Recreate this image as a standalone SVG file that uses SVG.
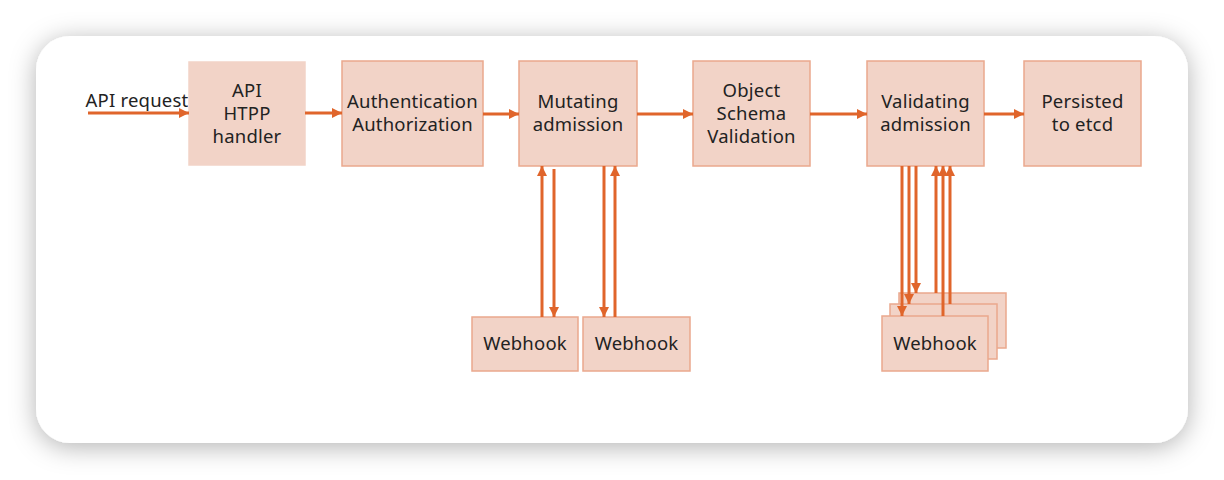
<svg xmlns="http://www.w3.org/2000/svg" width="1224" height="480" viewBox="0 0 1224 480">
<style>
.box{fill:#f2d3c7;stroke:#eaa88d;stroke-width:1.5}
.t{font-family:"Noto Sans","Open Sans","DejaVu Sans",sans-serif;font-size:18.5px;fill:#222;text-anchor:middle;letter-spacing:0.2px}
.c{stroke:#e0652b;stroke-width:3;fill:none}
</style>
<defs>
<filter id="sh" x="-10%" y="-20%" width="120%" height="140%">
<feDropShadow dx="0" dy="4" stdDeviation="13" flood-color="#000" flood-opacity="0.3"/>
</filter>
<marker id="ah" viewBox="0 0 10 10" refX="10" refY="5" markerWidth="10" markerHeight="10" markerUnits="userSpaceOnUse" orient="auto">
<path d="M0,0 L10,5 L0,10 z" fill="#e0652b"/>
</marker>
</defs>
<rect width="1224" height="480" fill="#fff"/>
<rect x="36" y="36" width="1152" height="407" rx="34" fill="#fff" filter="url(#sh)"/>
<g id="api-request-label"><text class="t" x="137" y="107">API request</text></g>
<g id="api-handler"><rect class="box" x="189" y="62" width="116" height="103" style="stroke:#f2d3c7"/><text class="t" x="247" y="97">API</text><text class="t" x="247" y="120">HTPP</text><text class="t" x="247" y="143">handler</text></g>
<g id="authn"><rect class="box" x="342" y="61" width="141" height="105"/><text class="t" x="412.5" y="108">Authentication</text><text class="t" x="412.5" y="131">Authorization</text></g>
<g id="mutating"><rect class="box" x="519" y="61" width="118" height="105"/><text class="t" x="578" y="108">Mutating</text><text class="t" x="578" y="131">admission</text></g>
<g id="schema"><rect class="box" x="693" y="61" width="117" height="105"/><text class="t" x="751.5" y="97">Object</text><text class="t" x="751.5" y="120">Schema</text><text class="t" x="751.5" y="143">Validation</text></g>
<g id="validating"><rect class="box" x="867" y="61" width="117" height="105"/><text class="t" x="925.5" y="108">Validating</text><text class="t" x="925.5" y="131">admission</text></g>
<g id="persisted"><rect class="box" x="1024" y="61" width="117" height="105"/><text class="t" x="1082.5" y="108">Persisted</text><text class="t" x="1082.5" y="131">to etcd</text></g>
<g id="webhook-m1"><rect class="box" x="472" y="317" width="106" height="54"/><text class="t" x="525" y="350">Webhook</text></g>
<g id="webhook-m2"><rect class="box" x="583" y="317" width="107" height="54"/><text class="t" x="636.5" y="350">Webhook</text></g>
<g id="webhook-v"><rect class="box" x="899" y="293" width="107" height="55"/><rect class="box" x="890" y="304" width="107" height="55"/><rect class="box" x="882" y="316" width="106" height="55"/><text class="t" x="935" y="350">Webhook</text></g>
<g id="connectors">
<line class="c" x1="88" y1="113" x2="189" y2="113" marker-end="url(#ah)"/>
<line class="c" x1="305" y1="113" x2="342" y2="113" marker-end="url(#ah)"/>
<line class="c" x1="483" y1="114" x2="519" y2="114" marker-end="url(#ah)"/>
<line class="c" x1="637" y1="114" x2="693" y2="114" marker-end="url(#ah)"/>
<line class="c" x1="810" y1="114" x2="867" y2="114" marker-end="url(#ah)"/>
<line class="c" x1="984" y1="114" x2="1024" y2="114" marker-end="url(#ah)"/>
<line class="c" x1="542" y1="317" x2="542" y2="166" marker-end="url(#ah)"/>
<line class="c" x1="554" y1="169" x2="554" y2="317" marker-end="url(#ah)"/>
<line class="c" x1="604" y1="166" x2="604" y2="317" marker-end="url(#ah)"/>
<line class="c" x1="615" y1="317" x2="615" y2="166" marker-end="url(#ah)"/>
<line class="c" x1="902" y1="166" x2="902" y2="316" marker-end="url(#ah)"/>
<line class="c" x1="909" y1="166" x2="909" y2="304" marker-end="url(#ah)"/>
<line class="c" x1="916" y1="166" x2="916" y2="293" marker-end="url(#ah)"/>
<line class="c" x1="936" y1="293" x2="936" y2="166" marker-end="url(#ah)"/>
<line class="c" x1="943" y1="316" x2="943" y2="166" marker-end="url(#ah)"/>
<line class="c" x1="950" y1="304" x2="950" y2="166" marker-end="url(#ah)"/>
</g>
</svg>
